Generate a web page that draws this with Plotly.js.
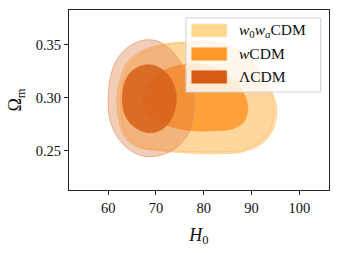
<!DOCTYPE html>
<html>
<head>
<meta charset="utf-8">
<script src="https://cdn.plot.ly/plotly-3.0.1.min.js"></script>
<style>html,body{margin:0;padding:0;background:#fff;}#plot{width:340px;height:253px;}</style>
</head>
<body>
<div id="plot"></div>
<script>
// Series names (legend order)
var seriesNames = ['<i>w</i><sub>0</sub><i>w</i><sub><i>a</i></sub>CDM', '<i>w</i>CDM', 'ΛCDM'];

// w0waCDM 2σ contour (H0, Ωm)
var w0waOuterH0 = [61.8, 62.45, 63.9, 66.6, 70.8, 76.0, 81.3, 86.1, 89.6, 92.15, 94.25, 95.3, 94.45, 92.35, 88.2, 82.3, 76.0, 70.8, 66.6, 63.9, 62.45];
var w0waOuterOm = [0.300, 0.317, 0.333, 0.3434, 0.350, 0.3528, 0.3538, 0.3481, 0.3377, 0.3236, 0.3057, 0.2887, 0.2698, 0.2575, 0.2491, 0.2472, 0.2481, 0.2500, 0.2528, 0.2604, 0.2745];

// wCDM 2σ contour
var wOuterH0 = [62.6, 63.2, 64.6, 67.2, 71.2, 76.2, 81.3, 86.0, 89.4, 91.8, 93.8, 94.7, 93.9, 91.8, 87.8, 82.2, 76.1, 71.0, 67.0, 64.5, 63.1];
var wOuterOm = [0.300, 0.317, 0.332, 0.342, 0.349, 0.352, 0.352, 0.347, 0.3365, 0.323, 0.306, 0.289, 0.2705, 0.2585, 0.2505, 0.249, 0.2495, 0.251, 0.2535, 0.261, 0.275];

// wCDM 1σ contour
var wInnerH0 = [67.26, 68.3, 70.2, 72.9, 77.1, 81.3, 84.4, 87.1, 88.8, 89.2, 88.4, 86.1, 81.9, 77.7, 73.3, 69.8, 67.9];
var wInnerOm = [0.300, 0.3123, 0.3217, 0.3283, 0.3321, 0.3302, 0.3236, 0.3132, 0.300, 0.2887, 0.2774, 0.2708, 0.2689, 0.2689, 0.2726, 0.2792, 0.2887];

// ΛCDM 2σ contour
var lcdmOuterH0 = [60.04, 60.56, 62.03, 64.54, 67.68, 70.82, 73.54, 76.26, 77.93, 77.93, 76.88, 73.95, 70.4, 67.05, 63.91, 61.4, 60.15];
var lcdmOuterOm = [0.3028, 0.3217, 0.3377, 0.3491, 0.3547, 0.3528, 0.3434, 0.3245, 0.3028, 0.284, 0.267, 0.2519, 0.2453, 0.2453, 0.2528, 0.267, 0.284];

// ΛCDM 1σ contour
var lcdmInnerH0 = [62.97, 63.49, 64.75, 66.84, 69.14, 71.44, 73.12, 74.16, 74.16, 73.33, 71.44, 68.93, 66.42, 64.54, 63.28];
var lcdmInnerOm = [0.3009, 0.3151, 0.3245, 0.3302, 0.3311, 0.3264, 0.3179, 0.3057, 0.2934, 0.2811, 0.2708, 0.267, 0.2698, 0.2764, 0.2868];

// Ticks
var xTicks = [60, 70, 80, 90, 100];
var xTickText = ['60', '70', '80', '90', '100'];
var yTicks = [0.25, 0.30, 0.35];
var yTickText = ['0.25', '0.30', '0.35'];

function closed(a) { return a.concat([a[0]]); }
function contour(xs, ys, fill, line, lw) {
  return {
    type: 'scatter', mode: 'lines', x: closed(xs), y: closed(ys),
    fill: 'toself', fillcolor: fill,
    line: {color: line, width: lw, shape: 'spline', smoothing: 1},
    hoverinfo: 'skip', showlegend: false
  };
}

var traces = [
  contour(w0waOuterH0, w0waOuterOm, 'rgba(255,205,130,0.7)', 'rgba(255,200,120,0.9)', 0.8),
  contour(wOuterH0, wOuterOm, 'rgba(255,195,120,0.2)', 'rgba(255,185,110,0.8)', 0.8),
  contour(wInnerH0, wInnerOm, 'rgba(255,150,40,0.85)', 'rgba(250,150,50,0.9)', 0.6),
  contour(lcdmOuterH0, lcdmOuterOm, 'rgba(220,120,60,0.36)', 'rgba(228,150,100,0.9)', 0.8),
  contour(lcdmInnerH0, lcdmInnerOm, 'rgba(215,95,25,0.85)', 'rgba(215,100,35,0.9)', 0.6)
];

var legendColors = ['rgb(255,215,140)', 'rgb(254,152,42)', 'rgb(214,92,22)'];
var rowCenters = [0.886, 0.7556, 0.6278];
var shapes = [{
  type: 'rect', xref: 'paper', yref: 'paper', x0: 0.45, x1: 0.968, y0: 0.544, y1: 0.956,
  fillcolor: 'rgba(255,255,255,0.8)', line: {color: '#d0d0d0', width: 1}, layer: 'above'
}];
var annotations = [];
for (var i = 0; i < seriesNames.length; i++) {
  shapes.push({
    type: 'rect', xref: 'paper', yref: 'paper', x0: 0.472, x1: 0.6065,
    y0: rowCenters[i] - 0.035, y1: rowCenters[i] + 0.035,
    fillcolor: legendColors[i], line: {color: legendColors[i], width: 0.5}, layer: 'above'
  });
  annotations.push({
    xref: 'paper', yref: 'paper', x: 0.646, y: rowCenters[i], xanchor: 'left', yanchor: 'middle',
    text: seriesNames[i], showarrow: false,
    font: {family: 'Liberation Serif, DejaVu Serif, serif', size: 15.5, color: '#111'}
  });
}

var axisCommon = {
  showline: true, mirror: true, linecolor: '#222', linewidth: 1.1,
  ticks: 'outside', ticklen: 4, tickwidth: 1, tickcolor: '#222',
  showgrid: false, zeroline: false,
  tickfont: {family: 'Liberation Serif, DejaVu Serif, serif', size: 14.5, color: '#111'}
};

var layout = {
  width: 340, height: 253,
  margin: {l: 69, r: 11, t: 10, b: 63},
  paper_bgcolor: '#fff', plot_bgcolor: '#fff',
  showlegend: false,
  xaxis: Object.assign({}, axisCommon, {
    range: [51.8, 106.2], tickvals: xTicks, ticktext: xTickText,
    title: {text: '<i>H</i><sub>0</sub>', standoff: 13, font: {family: 'Liberation Serif, DejaVu Serif, serif', size: 18, color: '#111'}}
  }),
  yaxis: Object.assign({}, axisCommon, {
    range: [0.213, 0.383], tickvals: yTicks, ticktext: yTickText,
    title: {text: 'Ω<sub>m</sub>', standoff: 9, font: {family: 'Liberation Serif, DejaVu Serif, serif', size: 18, color: '#111'}}
  }),
  shapes: shapes,
  annotations: annotations
};

Plotly.newPlot('plot', traces, layout, {staticPlot: true, displayModeBar: false});
</script>
</body>
</html>
